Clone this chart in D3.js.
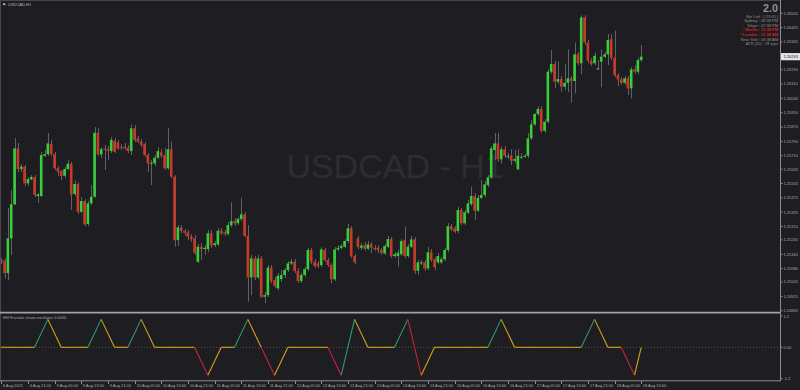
<!DOCTYPE html>
<html>
<head>
<meta charset="utf-8">
<script src="https://cdn.jsdelivr.net/npm/d3@7"></script>
<style>
html, body { margin: 0; padding: 0; background: #1e1e22; }
svg { display: block; }
text { font-family: "Liberation Sans", Arial, sans-serif; }
</style>
</head>
<body>
<svg id="chart" width="800" height="390"></svg>
<script>
// USDCAD H1 candles (bar 0 = 6 Aug 13:00)
var opens = [1.25128,1.25124,1.25055,1.25249,1.25439,1.25751,1.25636,1.25649,1.25556,1.25578,
  1.25591,1.25485,1.25485,1.25710,1.25719,1.25774,1.25719,1.25640,1.25625,1.25598,
  1.25636,1.25665,1.25496,1.25552,1.25397,1.25457,1.25329,1.25444,1.25481,1.25838,
  1.25718,1.25751,1.25747,1.25736,1.25794,1.25785,1.25760,1.25760,1.25755,1.25736,
  1.25863,1.25807,1.25788,1.25774,1.25714,1.25665,1.25667,1.25699,1.25729,1.25714,
  1.25640,1.25746,1.25593,1.25239,1.25310,1.25290,1.25282,1.25258,1.25249,1.25118,
  1.25202,1.25189,1.25189,1.25277,1.25211,1.25215,1.25291,1.25282,1.25274,1.25323,
  1.25345,1.25333,1.25357,1.25383,1.25263,1.25031,1.25137,1.25031,1.25137,1.24923,
  1.24932,1.25085,1.25016,1.24970,1.25022,1.25044,1.25072,1.25109,1.25118,1.25066,
  1.25011,1.25044,1.25077,1.25184,1.25118,1.25109,1.25100,1.25184,1.25128,1.25100,
  1.25020,1.25187,1.25196,1.25202,1.25234,1.25305,1.25150,1.25249,1.25196,1.25211,
  1.25191,1.25215,1.25196,1.25196,1.25184,1.25165,1.25202,1.25245,1.25150,1.25150,
  1.25160,1.25239,1.25150,1.25202,1.25243,1.25068,1.25109,1.25115,1.25081,1.25171,
  1.25133,1.25115,1.25115,1.25132,1.25184,1.25317,1.25305,1.25290,1.25407,1.25333,
  1.25392,1.25440,1.25485,1.25403,1.25475,1.25491,1.25546,1.25589,1.25742,1.25779,
  1.25690,1.25746,1.25704,1.25710,1.25682,1.25634,1.25699,1.25704,1.25710,1.25807,
  1.25885,1.25943,1.25971,1.25849,1.25900,1.26179,1.26222,1.26123,1.26138,1.26095,
  1.26117,1.26142,1.26127,1.26276,1.26226,1.26482,1.26343,1.26240,1.26226,1.26192,
  1.26235,1.26263,1.26276,1.26360,1.26257,1.26160,1.26136,1.26117,1.26142,1.26086,
  1.26192,1.26179,1.26244];
var highs = [1.25139,1.25137,1.25418,1.25518,1.25809,1.25781,1.25664,1.25658,1.25591,1.25602,
  1.25602,1.25502,1.25731,1.25742,1.25837,1.25798,1.25731,1.25652,1.25630,1.25647,
  1.25686,1.25675,1.25574,1.25563,1.25479,1.25468,1.25457,1.25546,1.25870,1.25864,
  1.25758,1.25770,1.25764,1.25814,1.25809,1.25798,1.25775,1.25781,1.25770,1.25885,
  1.25881,1.25820,1.25803,1.25786,1.25725,1.25686,1.25714,1.25760,1.25747,1.25753,
  1.25866,1.25788,1.25602,1.25323,1.25323,1.25301,1.25295,1.25273,1.25267,1.25217,
  1.25223,1.25211,1.25295,1.25295,1.25234,1.25306,1.25306,1.25295,1.25340,1.25450,
  1.25362,1.25368,1.25475,1.25396,1.25323,1.25156,1.25150,1.25156,1.25150,1.24949,
  1.25100,1.25100,1.25033,1.25055,1.25072,1.25083,1.25122,1.25133,1.25133,1.25083,
  1.25055,1.25089,1.25195,1.25195,1.25133,1.25122,1.25200,1.25195,1.25139,1.25111,
  1.25200,1.25211,1.25217,1.25245,1.25329,1.25317,1.25161,1.25262,1.25223,1.25228,
  1.25234,1.25228,1.25211,1.25211,1.25195,1.25217,1.25262,1.25256,1.25172,1.25184,
  1.25245,1.25314,1.25217,1.25262,1.25256,1.25128,1.25128,1.25128,1.25202,1.25189,
  1.25144,1.25167,1.25144,1.25195,1.25334,1.25329,1.25317,1.25424,1.25418,1.25407,
  1.25463,1.25537,1.25502,1.25491,1.25574,1.25569,1.25602,1.25764,1.25837,1.25838,
  1.25764,1.25764,1.25725,1.25746,1.25742,1.25747,1.25725,1.25719,1.25837,1.25909,
  1.25947,1.25987,1.25987,1.25915,1.26194,1.26300,1.26239,1.26235,1.26155,1.26222,
  1.26304,1.26155,1.26341,1.26289,1.26494,1.26495,1.26356,1.26255,1.26287,1.26244,
  1.26304,1.26289,1.26389,1.26389,1.26408,1.26172,1.26149,1.26155,1.26155,1.26205,
  1.26216,1.26255,1.26328];
var lows = [1.25105,1.25026,1.25016,1.25156,1.25435,1.25619,1.25619,1.25541,1.25541,1.25574,
  1.25479,1.25446,1.25479,1.25703,1.25708,1.25708,1.25630,1.25597,1.25574,1.25585,
  1.25630,1.25407,1.25485,1.25384,1.25390,1.25317,1.25317,1.25435,1.25474,1.25708,
  1.25697,1.25630,1.25686,1.25725,1.25725,1.25742,1.25742,1.25742,1.25725,1.25714,
  1.25786,1.25781,1.25758,1.25703,1.25619,1.25546,1.25652,1.25691,1.25697,1.25630,
  1.25630,1.25585,1.25202,1.25206,1.25278,1.25262,1.25239,1.25228,1.25156,1.25111,
  1.25128,1.25156,1.25172,1.25195,1.25200,1.25206,1.25267,1.25262,1.25262,1.25312,
  1.25317,1.25323,1.25345,1.25256,1.24895,1.24932,1.25016,1.25022,1.24916,1.24886,
  1.24921,1.24999,1.24971,1.24960,1.25005,1.25027,1.25061,1.25100,1.25055,1.24999,
  1.24999,1.25033,1.25066,1.25105,1.25083,1.25083,1.25089,1.25117,1.25089,1.24998,
  1.25011,1.25178,1.25189,1.25195,1.25223,1.25139,1.25105,1.25189,1.25184,1.25178,
  1.25184,1.25167,1.25178,1.25167,1.25156,1.25156,1.25195,1.25139,1.25139,1.25090,
  1.25150,1.25139,1.25139,1.25195,1.25050,1.25044,1.25100,1.25066,1.25072,1.25117,
  1.25072,1.25105,1.25105,1.25122,1.25172,1.25290,1.25278,1.25278,1.25323,1.25323,
  1.25384,1.25429,1.25351,1.25396,1.25468,1.25479,1.25535,1.25580,1.25686,1.25675,
  1.25667,1.25697,1.25691,1.25658,1.25669,1.25630,1.25691,1.25697,1.25697,1.25798,
  1.25876,1.25932,1.25838,1.25837,1.25892,1.26166,1.26086,1.26110,1.26067,1.26077,
  1.26065,1.26006,1.26058,1.26216,1.26166,1.26328,1.26227,1.26211,1.26216,1.26188,
  1.26092,1.26255,1.26216,1.26244,1.26149,1.26099,1.26105,1.26105,1.26049,1.26030,
  1.26166,1.26166,1.26233];
var closes = [1.25117,1.25055,1.25249,1.25439,1.25751,1.25636,1.25649,1.25556,1.25580,1.25591,
  1.25491,1.25494,1.25714,1.25719,1.25779,1.25719,1.25640,1.25621,1.25597,1.25636,
  1.25665,1.25494,1.25552,1.25397,1.25457,1.25327,1.25444,1.25481,1.25838,1.25718,
  1.25747,1.25746,1.25736,1.25798,1.25732,1.25751,1.25757,1.25751,1.25736,1.25863,
  1.25798,1.25788,1.25770,1.25714,1.25667,1.25671,1.25699,1.25736,1.25710,1.25640,
  1.25746,1.25593,1.25239,1.25310,1.25290,1.25280,1.25258,1.25245,1.25168,1.25202,
  1.25189,1.25196,1.25277,1.25211,1.25221,1.25291,1.25277,1.25274,1.25323,1.25345,
  1.25333,1.25357,1.25383,1.25263,1.25031,1.25137,1.25031,1.25137,1.24923,1.24932,
  1.25085,1.25011,1.24984,1.25040,1.25044,1.25072,1.25109,1.25118,1.25066,1.25011,
  1.25044,1.25077,1.25184,1.25118,1.25094,1.25094,1.25187,1.25128,1.25100,1.25020,
  1.25187,1.25196,1.25206,1.25234,1.25305,1.25150,1.25115,1.25202,1.25208,1.25191,
  1.25215,1.25196,1.25189,1.25184,1.25168,1.25206,1.25245,1.25150,1.25160,1.25168,
  1.25234,1.25150,1.25202,1.25243,1.25068,1.25115,1.25115,1.25081,1.25171,1.25128,
  1.25087,1.25150,1.25132,1.25184,1.25317,1.25299,1.25286,1.25407,1.25333,1.25394,
  1.25444,1.25485,1.25403,1.25475,1.25491,1.25550,1.25589,1.25751,1.25779,1.25690,
  1.25746,1.25710,1.25710,1.25682,1.25691,1.25710,1.25704,1.25710,1.25807,1.25885,
  1.25943,1.25971,1.25849,1.25900,1.26179,1.26222,1.26123,1.26138,1.26095,1.26117,
  1.26142,1.26127,1.26276,1.26226,1.26482,1.26343,1.26240,1.26222,1.26268,1.26198,
  1.26263,1.26276,1.26356,1.26257,1.26160,1.26136,1.26117,1.26142,1.26086,1.26192,
  1.26179,1.26244,1.26263];

// price axis labels as printed by the terminal
var priceTicks = [1.26505,1.26425,1.26345,1.26190,1.26110,1.26030,1.25950,1.25870,1.25790,
  1.25710,1.25635,1.25555,1.25475,1.25395,1.25315,1.25240,1.25160,1.25080,1.25005,1.24925,1.24845];

// time axis, one label every 8 bars
var timeLabels = ["6 Aug 2021","6 Aug 21:00","9 Aug 05:00","9 Aug 13:00","9 Aug 21:00",
  "10 Aug 05:00","10 Aug 13:00","10 Aug 21:00","11 Aug 05:00","11 Aug 13:00","11 Aug 21:00",
  "12 Aug 05:00","12 Aug 13:00","12 Aug 21:00","13 Aug 05:00","13 Aug 13:00","13 Aug 21:00",
  "16 Aug 05:00","16 Aug 13:00","16 Aug 21:00","17 Aug 05:00","17 Aug 13:00","17 Aug 21:00",
  "18 Aug 05:00","18 Aug 13:00"];
var labelStep = 8;

// fractals chaos oscillator (H4 points drawn on H1 bars)
var oscBars = [-2,2,6,10,14,18,22,26,30,34,38,42,46,50,54,58,62,66,70,74,78,82,86,90,94,98,
  102,106,110,114,118,122,126,130,134,138,142,146,150,154,158,162,166,170,174,178,182,186,190,192];
var oscVals = [0,0,0,0,1,0,0,0,1,0,0,1,0,0,0,0,-1,0,0,1,0,-1,0,0,0,0,
  -1,1,0,0,0,1,-1,0,0,0,0,0,1,0,0,0,0,0,0,1,0,0,-1,0];
var oscTicks = [1.2, 0, -1.2];

var infoLines = [
  {t: "Bar Left :  [ 23:05 ]", c: "#8d8d8d"},
  {t: "Sydney : 08:38 PM", c: "#8d8d8d"},
  {t: "Tokyo : 07:38 PM", c: "#8d8d8d"},
  {t: "* Berlin : 12:38 PM", c: "#d02020"},
  {t: "* London : 11:38 AM", c: "#d02020"},
  {t: "New York : 06:38 AM", c: "#8d8d8d"},
  {t: "ATR (20) : 28 pips", c: "#8d8d8d"}
];

var svg = d3.select("#chart");
var W = 800, H = 390,
    plotRight = 780,
    mainTop = 2, mainBottom = 312,
    oscTop = 314, oscBottom = 381;

var bull = "#36cf36", bear = "#c9392a", wick = "#626266",
    axisCol = "#8e8e92", labelCol = "#a9a9ad";

var n = closes.length;
var x = d3.scaleLinear().domain([0, n - 1]).range([1.2, 641.2]);
var y = d3.scaleLinear().domain([1.26505, 1.24845]).range([13.3, 310.7]);
var yo = d3.scaleLinear().domain([-1.2, 1.2]).range([380.8, 313.8]);

svg.append("rect").attr("width", W).attr("height", H).attr("fill", "#1e1e22");

var defs = svg.append("defs");
defs.append("clipPath").attr("id", "clipMain").append("rect")
  .attr("x", 1).attr("y", mainTop).attr("width", plotRight - 1).attr("height", mainBottom - mainTop);
defs.append("clipPath").attr("id", "clipOsc").append("rect")
  .attr("x", 1).attr("y", oscTop).attr("width", plotRight - 1).attr("height", oscBottom - oscTop);

// watermark
svg.append("text")
  .attr("x", 395).attr("y", 178)
  .attr("text-anchor", "middle")
  .attr("font-size", 34)
  .attr("fill", "#2d2d32")
  .text("USDCAD - H1");

var g = svg.append("g").attr("clip-path", "url(#clipMain)");
var idx = d3.range(n);

g.selectAll(".wick")
  .data(idx)
  .enter().append("line")
    .attr("class", "wick")
    .attr("x1", function(i){ return Math.round(x(i)) + 0.5; })
    .attr("x2", function(i){ return Math.round(x(i)) + 0.5; })
    .attr("y1", function(i){ return y(highs[i]); })
    .attr("y2", function(i){ return y(lows[i]); })
    .attr("stroke", wick)
    .attr("stroke-width", 1);

g.selectAll(".body")
  .data(idx)
  .enter().append("rect")
    .attr("class", "body")
    .attr("x", function(i){ return x(i) - 1.3; })
    .attr("width", 2.6)
    .attr("y", function(i){ return y(Math.max(opens[i], closes[i])); })
    .attr("height", function(i){ return Math.max(1, Math.abs(y(opens[i]) - y(closes[i]))); })
    .attr("fill", function(i){ return closes[i] >= opens[i] ? bull : bear; });

// oscillator pane
var go = svg.append("g").attr("clip-path", "url(#clipOsc)");
go.append("line")
  .attr("x1", 0).attr("x2", plotRight)
  .attr("y1", yo(0)).attr("y2", yo(0))
  .attr("stroke", "#5a5a5f").attr("stroke-width", 0.8)
  .attr("stroke-dasharray", "1,2");

var segs = d3.range(oscBars.length - 1);
go.selectAll(".oseg")
  .data(segs)
  .enter().append("line")
    .attr("class", "oseg")
    .attr("x1", function(k){ return x(oscBars[k]); })
    .attr("y1", function(k){ return yo(oscVals[k]); })
    .attr("x2", function(k){ return x(oscBars[k + 1]); })
    .attr("y2", function(k){ return yo(oscVals[k + 1]); })
    .attr("stroke", function(k){
      var v = oscVals[k + 1];
      return v > 0 ? "#2f9a68" : (v < 0 ? "#c91f3d" : "#d3a412");
    })
    .attr("stroke-width", 1.1);

svg.append("text")
  .attr("x", 3).attr("y", 319)
  .attr("font-size", 4).attr("fill", labelCol)
  .text("HH Fractals chaos oscillator 0.0000");

// frame
svg.append("line").attr("x1", 0.5).attr("x2", 0.5).attr("y1", 0).attr("y2", 381)
  .attr("stroke", "#46464b").attr("stroke-width", 1);
svg.append("line").attr("x1", 0).attr("x2", plotRight).attr("y1", 0.5).attr("y2", 0.5)
  .attr("stroke", "#46464b").attr("stroke-width", 1);
svg.append("line").attr("x1", plotRight + 0.5).attr("x2", plotRight + 0.5).attr("y1", 0).attr("y2", 381)
  .attr("stroke", axisCol);
svg.append("line").attr("x1", 0).attr("x2", plotRight).attr("y1", 312.6).attr("y2", 312.6)
  .attr("stroke", "#a2a2a6").attr("stroke-width", 1.6);
svg.append("line").attr("x1", 0).attr("x2", plotRight + 1).attr("y1", 380.8).attr("y2", 380.8)
  .attr("stroke", axisCol);

// price axis
var pa = svg.append("g").selectAll("g")
  .data(priceTicks)
  .enter().append("g")
    .attr("transform", function(d){ return "translate(" + plotRight + "," + y(d) + ")"; });
pa.append("line").attr("x1", 0).attr("x2", 2.5).attr("stroke", axisCol);
pa.append("text")
  .attr("x", 3.5).attr("dy", "0.35em")
  .attr("font-size", 4).attr("fill", labelCol)
  .text(function(d){ return d.toFixed(5); });

// current price box
var last = closes[n - 1];
svg.append("rect")
  .attr("x", plotRight + 1).attr("y", y(last) - 3.6)
  .attr("width", 19).attr("height", 7.2)
  .attr("fill", "#e4e4e4");
svg.append("text")
  .attr("x", plotRight + 3.5).attr("y", y(last)).attr("dy", "0.35em")
  .attr("font-size", 4).attr("fill", "#222")
  .text(last.toFixed(5));

// oscillator axis
var oa = svg.append("g").selectAll("g")
  .data(oscTicks)
  .enter().append("g");
oa.append("line")
  .attr("x1", plotRight).attr("x2", plotRight + 2.5)
  .attr("y1", function(d){ return d === 0 ? yo(0) : (d > 0 ? 316 : 378.7); })
  .attr("y2", function(d){ return d === 0 ? yo(0) : (d > 0 ? 316 : 378.7); })
  .attr("stroke", axisCol);
oa.append("text")
  .attr("x", plotRight + 3.5)
  .attr("y", function(d){ return d === 0 ? yo(0) : (d > 0 ? 316.2 : 378.7); })
  .attr("dy", "0.35em")
  .attr("font-size", 4).attr("fill", labelCol)
  .text(function(d){ return d === 0 ? "0.00" : d.toFixed(1); });

// time axis
var ta = svg.append("g").selectAll("g")
  .data(timeLabels)
  .enter().append("g")
    .attr("transform", function(d, i){ return "translate(" + (Math.round(x(i * labelStep)) + 0.5) + ",381)"; });
ta.append("line").attr("y1", 0).attr("y2", 3).attr("stroke", axisCol);
ta.append("text")
  .attr("x", 1.2).attr("y", 5.6)
  .attr("font-size", 4).attr("fill", labelCol)
  .text(function(d){ return d; });

// symbol caption top left
svg.append("rect").attr("x", 3).attr("y", 3.3).attr("width", 2.4).attr("height", 1.8).attr("fill", "#b0b0b0");
svg.append("text")
  .attr("x", 8).attr("y", 5.7)
  .attr("font-size", 4).attr("fill", "#b4b4b8")
  .text("USDCAD,H1");

// info panel top right
svg.append("text")
  .attr("x", 778).attr("y", 11.6)
  .attr("text-anchor", "end")
  .attr("font-size", 10.8).attr("font-weight", "bold")
  .attr("fill", "#8f8f93")
  .text("2.0");
svg.append("g").selectAll("text")
  .data(infoLines)
  .enter().append("text")
    .attr("x", 778)
    .attr("y", function(d, i){ return 17.6 + i * 4.6; })
    .attr("text-anchor", "end")
    .attr("font-size", 4)
    .attr("font-weight", function(d){ return d.c === "#d02020" ? "bold" : "normal"; })
    .attr("fill", function(d){ return d.c; })
    .text(function(d){ return d.t; });
</script>
</body>
</html>
